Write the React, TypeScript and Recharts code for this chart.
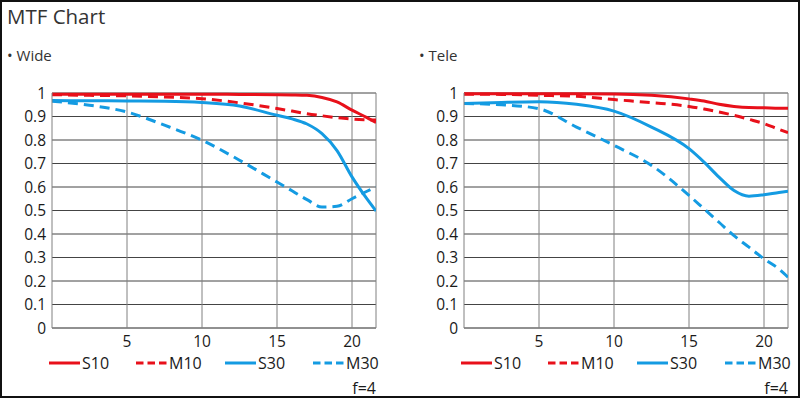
import React from 'react';
import { LineChart, Line, XAxis, YAxis, CartesianGrid, ReferenceLine } from 'recharts';

// sample positions (image height, mm) shared by every curve
const X_POINTS = [0, 2.5, 5, 7.5, 10, 12.5, 15, 16, 17, 18, 19, 20, 21, 21.6];

const WIDE_S10 = [0.995, 0.995, 0.995, 0.995, 0.995, 0.994, 0.993, 0.992, 0.99, 0.981, 0.962, 0.927, 0.895, 0.874];
const WIDE_M10 = [0.993, 0.99, 0.988, 0.983, 0.976, 0.958, 0.934, 0.923, 0.912, 0.903, 0.895, 0.889, 0.886, 0.885];
const WIDE_S30 = [0.968, 0.967, 0.966, 0.965, 0.96, 0.945, 0.905, 0.89, 0.868, 0.827, 0.755, 0.643, 0.549, 0.498];
const WIDE_M30 = [0.965, 0.948, 0.919, 0.863, 0.799, 0.714, 0.621, 0.584, 0.546, 0.515, 0.518, 0.55, 0.582, 0.6];

const TELE_S10 = [0.997, 0.997, 0.997, 0.997, 0.996, 0.99, 0.975, 0.966, 0.952, 0.943, 0.938, 0.937, 0.935, 0.935];
const TELE_M10 = [0.995, 0.994, 0.99, 0.986, 0.972, 0.959, 0.943, 0.932, 0.919, 0.905, 0.888, 0.87, 0.845, 0.831];
const TELE_S30 = [0.955, 0.96, 0.963, 0.952, 0.923, 0.855, 0.763, 0.706, 0.642, 0.585, 0.561, 0.567, 0.577, 0.582];
const TELE_M30 = [0.955, 0.95, 0.933, 0.855, 0.777, 0.692, 0.564, 0.507, 0.45, 0.393, 0.344, 0.294, 0.251, 0.216];

const X_TICKS = [5, 10, 15, 20];
const Y_TICKS = [0, 0.1, 0.2, 0.3, 0.4, 0.5, 0.6, 0.7, 0.8, 0.9, 1];
const SERIES_NAMES = ['S10', 'M10', 'S30', 'M30'];

const RED = '#e8101a';
const BLUE = '#149be2';
const FONT = '"Open Sans", "Noto Sans", sans-serif';

const SERIES_STYLE: Record<string, { color: string; dash?: string }> = {
  S10: { color: RED },
  M10: { color: RED, dash: '10 6' },
  S30: { color: BLUE },
  M30: { color: BLUE, dash: '10 6' },
};

const buildRows = (s10: number[], m10: number[], s30: number[], m30: number[]) =>
  X_POINTS.map((x, i) => ({ x, S10: s10[i], M10: m10[i], S30: s30[i], M30: m30[i] }));

const LEGEND_OFFSETS = [0, 87, 176, 264];

const Panel: React.FC<{ label: string; left: number; rows: any[] }> = ({ label, left, rows }) => (
  <div style={{ position: 'absolute', left, top: 0, width: 400, height: 398 }}>
    <div style={{ position: 'absolute', left: 7, top: 48, fontSize: 15, lineHeight: '15px', color: '#333', whiteSpace: 'nowrap' }}>
      • {label}
    </div>
    <LineChart width={400} height={398} data={rows} margin={{ top: 93, right: 24, left: 0, bottom: 40 }}>
      <CartesianGrid vertical={false} stroke="#444" strokeWidth={1} horizontalValues={Y_TICKS} />
      <CartesianGrid horizontal={false} stroke="#808080" strokeWidth={1} verticalValues={X_TICKS} />
      <XAxis
        dataKey="x"
        type="number"
        domain={[0, 21.6]}
        ticks={X_TICKS}
        allowDataOverflow
        height={30}
        tickLine={false}
        tickSize={0}
        tickMargin={8}
        axisLine={{ stroke: '#808080' }}
        tick={{ fill: '#1a1a1a', fontSize: 15.5, fontFamily: FONT }}
      />
      <YAxis
        type="number"
        domain={[0, 1]}
        ticks={Y_TICKS}
        width={52}
        interval={0}
        tickLine={false}
        tickSize={0}
        tickMargin={6}
        axisLine={{ stroke: '#808080' }}
        tickFormatter={(v: number) => (v === 0 || v === 1 ? String(v) : v.toFixed(1))}
        tick={{ fill: '#1a1a1a', fontSize: 15.5, fontFamily: FONT }}
      />
      <ReferenceLine x={21.6} stroke="#808080" />
      {SERIES_NAMES.map((name) => (
        <Line
          key={name}
          dataKey={name}
          type="monotone"
          stroke={SERIES_STYLE[name].color}
          strokeDasharray={SERIES_STYLE[name].dash}
          strokeWidth={3}
          dot={false}
          activeDot={false}
          isAnimationActive={false}
        />
      ))}
    </LineChart>
    {/* legend */}
    {SERIES_NAMES.map((name, i) => (
      <div
        key={name}
        style={{ position: 'absolute', left: 49 + LEGEND_OFFSETS[i], top: 355, height: 16, display: 'flex', alignItems: 'center' }}
      >
        <svg width={31} height={6} style={{ display: 'block' }}>
          <line x1={0} y1={3} x2={31} y2={3} stroke={SERIES_STYLE[name].color} strokeWidth={3}
            strokeDasharray={SERIES_STYLE[name].dash ? '7.5 4' : undefined} />
        </svg>
        <span style={{ marginLeft: 2, fontSize: 16, lineHeight: '16px', color: '#1a1a1a' }}>{name}</span>
      </div>
    ))}
    <div style={{ position: 'absolute', right: 24, top: 380, fontSize: 16, lineHeight: '16px', color: '#1a1a1a' }}>f=4</div>
  </div>
);

export default function App() {
  const wide = buildRows(WIDE_S10, WIDE_M10, WIDE_S30, WIDE_M30);
  const tele = buildRows(TELE_S10, TELE_M10, TELE_S30, TELE_M30);
  return (
    <div
      style={{
        position: 'absolute', left: 0, top: 0, width: 800, height: 398, boxSizing: 'border-box',
        border: '2px solid #111', background: '#fff', fontFamily: FONT, overflow: 'hidden',
      }}
    >
      <div style={{ position: 'absolute', left: 5, top: 4, fontSize: 20.5, lineHeight: '21px', color: '#333' }}>MTF Chart</div>
      <div style={{ position: 'absolute', left: -2, top: -2 }}>
        <Panel label="Wide" left={0} rows={wide} />
        <Panel label="Tele" left={412} rows={tele} />
      </div>
    </div>
  );
}
